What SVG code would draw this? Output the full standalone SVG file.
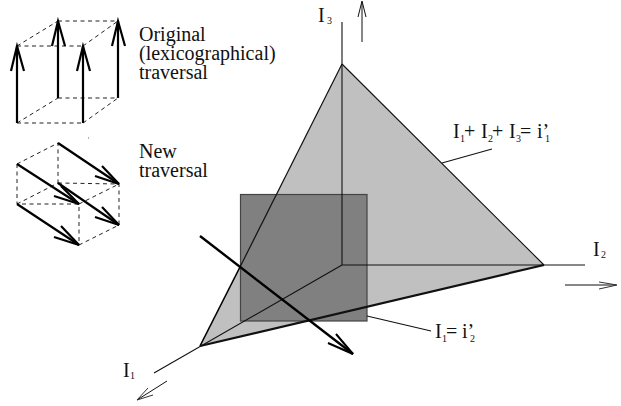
<svg xmlns="http://www.w3.org/2000/svg" width="621" height="406" viewBox="0 0 621 406">
<style>
.t{font-family:"Liberation Serif","Times New Roman",serif;font-size:20px;fill:#111}
.s{font-size:10px}
.d{fill:none;stroke:#222;stroke-width:1;stroke-dasharray:4 3.5}
.a{fill:none;stroke:#000;stroke-width:2.2}
.l{fill:none;stroke:#111;stroke-width:1.1}
</style>
<rect width="621" height="406" fill="#fff"/>
<g id="triangle"><polygon points="342,64 544,265 200,346" fill="#c0c0c0"/></g>
<g id="square"><rect x="240.500" y="194.500" width="126.500" height="126.500" fill="#808080" stroke="#444" stroke-width="1.200"/></g>
<g id="connectors">
<path class="l" d="M342,22V265H585M342,265L154,373"/>
<path class="l" d="M342,64L544,265"/>
<path d="M342,64L240,267" fill="none" stroke="#111" stroke-width="1.200"/>
<path d="M240,267L200,346" fill="none" stroke="#000" stroke-width="1.600"/>
<path d="M200,346L544,265" fill="none" stroke="#111" stroke-width="2.200"/>
<path d="M200,236L353,354" fill="none" stroke="#000" stroke-width="2.400"/>
<path d="M336,334L353,354L328,343" fill="none" stroke="#000" stroke-width="2"/>
<path class="l" d="M442,163L492,149M367,316L431,331"/>
<path d="M362,42V2" stroke="#555" stroke-width="1.400" fill="none"/>
<path d="M358,17L362,1L366,17" stroke="#111" fill="none"/>
<path d="M565,285H616" stroke="#111" fill="none"/>
<path d="M599,282L617,285L599,289" stroke="#333" fill="none"/>
<path d="M167,381L137,400" stroke="#111" fill="none"/>
<path d="M148,388L137,400L153,395" stroke="#333" fill="none"/>
</g>
<g id="cube-original">
<path class="d" d="M58,21H118M17,46H83M58,98H118M17,123H83M17,46L58,21M83,46L118,21M17,123L58,98M83,123L118,98"/>
<path class="a" d="M17,123V46M58,98V21M83,123V46M118,98V21"/>
<path class="a" d="M11,71L17,46L24,71M52,46L58,21L65,46M77,71L83,46L90,71M112,46L118,21L125,46"/>
</g>
<g id="cube-new">
<path class="d" d="M17,164L58,143V183M58,183L119,184V225M17,164V204H79V245M17,204L58,183M79,204L119,184M79,245L119,225"/>
<path class="a" d="M58,143L119,184M17,164L79,204M58,183L119,225M17,204L79,245"/>
<path class="a" d="M102,166L119,184L95,176M61,186L79,204L54,196M102,207L119,225L95,217M61,226L79,245L54,237"/>
<path d="M88,138h1" stroke="#666" fill="none"/>
</g>
<g id="labels">
<text class="t" x="139" y="41">Original</text>
<text class="t" x="139" y="60">(lexicographical)</text>
<text class="t" x="139" y="79">traversal</text>
<text class="t" x="139" y="158">New</text>
<text class="t" x="139" y="177">traversal</text>
<text class="t" x="318" y="22">I<tspan class="s" x="327" y="24">3</tspan></text>
<text class="t" x="453" y="138">I<tspan class="s" x="460" y="142">1</tspan><tspan x="464" y="138">+</tspan><tspan x="481" y="138">I</tspan><tspan class="s" x="488" y="142">2</tspan><tspan x="492" y="138">+</tspan><tspan x="509" y="138">I</tspan><tspan class="s" x="516" y="142">3</tspan><tspan x="520" y="138">=</tspan><tspan x="537" y="138">i’</tspan><tspan class="s" x="545" y="142">1</tspan></text>
<text class="t" x="593" y="256">I<tspan class="s" x="601" y="258">2</tspan></text>
<text class="t" x="435" y="338">I<tspan class="s" x="442" y="342">1</tspan><tspan x="446" y="338">=</tspan><tspan x="462" y="338">i’</tspan><tspan class="s" x="470" y="342">2</tspan></text>
<text class="t" x="123" y="377">I<tspan class="s" x="130" y="379">1</tspan></text>
</g>
</svg>
